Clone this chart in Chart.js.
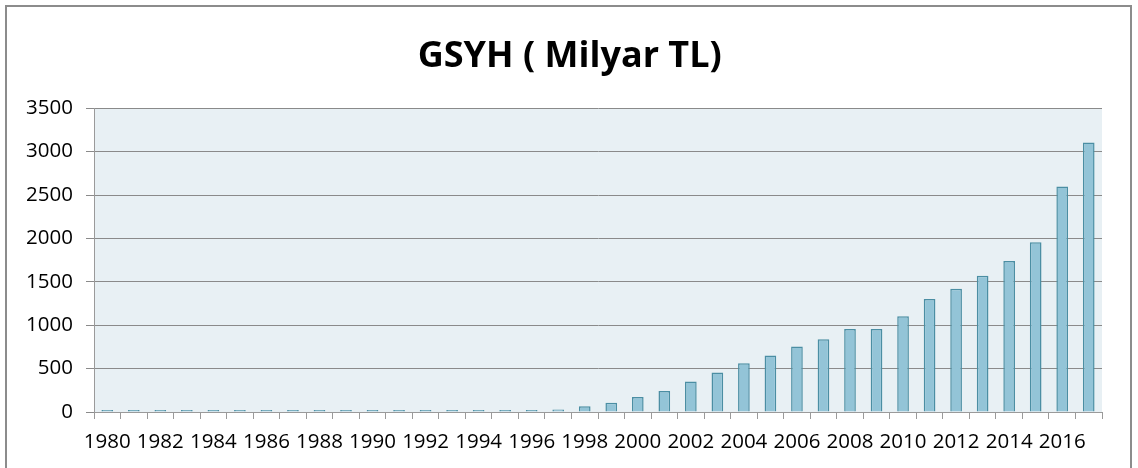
<!DOCTYPE html>
<html>
<head>
<meta charset="utf-8">
<script src="https://cdn.jsdelivr.net/npm/chart.js@4/dist/chart.umd.min.js"></script>
<style>
  html, body { margin: 0; padding: 0; background: #ffffff; }
  #wrap { position: relative; width: 1138px; height: 468px; overflow: hidden; }
  #frame { position: absolute; left: 5px; top: 5px; width: 1127px; height: 480px; border: 2px solid #8c8c8c; box-sizing: border-box; }
  canvas { position: absolute; left: 0; top: 0; }
</style>
</head>
<body>
<div id="wrap">
  <div id="frame"></div>
  <canvas id="myChart" width="1138" height="468"></canvas>
</div>
<script>
var years = [];
for (var y = 1980; y <= 2017; y++) years.push(String(y));

// GSYH, milyar TL
var gsyh = [0.005, 0.008, 0.011, 0.014, 0.022, 0.035, 0.05, 0.075, 0.13, 0.23,
            0.4, 0.63, 1.1, 2.0, 3.9, 7.8, 15, 30, 66, 107,
            173, 242, 350, 454, 562, 650, 755, 839, 955, 955,
            1102, 1301, 1420, 1570, 1740, 1956, 2598, 3106];

var yTicks = [0, 500, 1000, 1500, 2000, 2500, 3000, 3500];

var plotBg = {
    id: 'plotBg',
    beforeDraw: function(chart) {
        var a = chart.chartArea, c = chart.ctx;
        c.save();
        c.fillStyle = '#e8f0f4';
        c.fillRect(a.left, a.top, a.right - a.left, a.bottom - a.top);
        c.restore();
    }
};

var ctx = document.getElementById("myChart").getContext('2d');

var chart = new Chart(ctx, {
    type: 'bar',
    data: {
        labels: years,
        datasets: [{
            data: gsyh,
            backgroundColor: '#93c4d7',
            borderColor: '#4b8ea3',
            borderWidth: 1.5,
            minBarLength: 2,
            barPercentage: 0.44,
            categoryPercentage: 1
        }]
    },
    options: {
        responsive: false,
        animation: false,
        layout: { padding: { left: 0, right: 36, top: 0, bottom: 0 } },
        plugins: {
            legend: { display: false },
            tooltip: { enabled: false },
            title: {
                display: true,
                text: '    GSYH ( Milyar TL)',
                color: '#000000',
                font: { family: 'Open Sans', size: 36, weight: 'bold' },
                padding: { top: 35, bottom: 30 }
            }
        },
        scales: {
            x: {
                grid: { drawOnChartArea: false, color: '#9a9a9a', tickLength: 7, offset: true },
                border: { color: '#9a9a9a' },
                ticks: {
                    autoSkip: false,
                    maxRotation: 0,
                    padding: 11,
                    color: '#000000',
                    font: { family: 'Open Sans', size: 20.5 },
                    callback: function(v, i) { return i % 2 === 0 ? this.getLabelForValue(v) : ''; }
                },
                afterFit: function(s) { s.height = 56; }
            },
            y: {
                min: 0,
                max: 3500,
                afterBuildTicks: function(s) { s.ticks = yTicks.map(function(v) { return { value: v }; }); },
                grid: { color: '#8a8a8a', tickLength: 8 },
                border: { color: '#9a9a9a' },
                ticks: {
                    padding: 13,
                    color: '#000000',
                    font: { family: 'Open Sans', size: 20.5 },
                    callback: function(v) { return String(v); }
                },
                afterFit: function(s) { s.width = 94; }
            }
        }
    },
    plugins: [plotBg]
});
</script>
</body>
</html>
